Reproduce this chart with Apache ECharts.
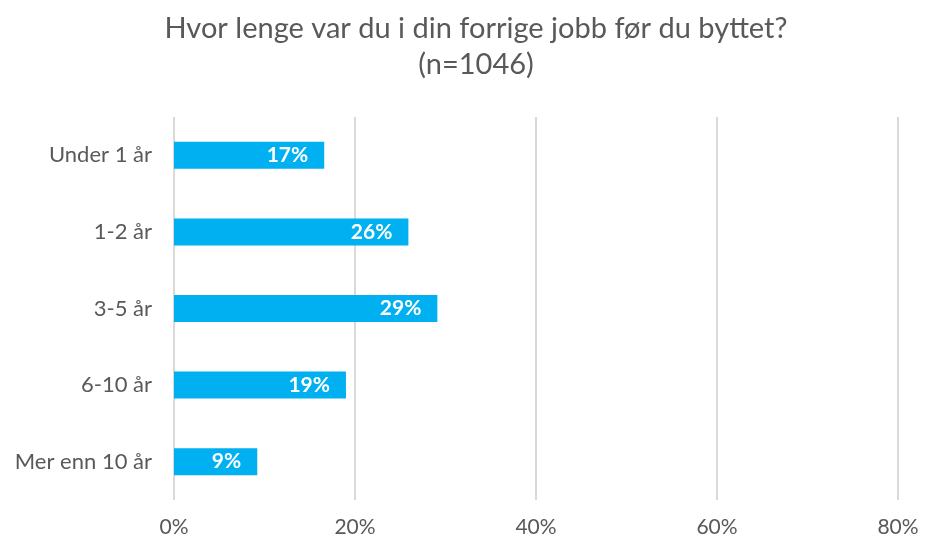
<!DOCTYPE html>
<html>
<head>
<meta charset="utf-8">
<script src="https://cdn.jsdelivr.net/npm/echarts@6/dist/echarts.min.js"></script>
<style>
  html, body { margin: 0; padding: 0; background: #fff; }
  #chart { width: 925px; height: 542px; }
</style>
</head>
<body>
<div id="chart"></div>
<script>
// kategorier og verdier (lest av bildet)
var categories = ['Under 1 år', '1-2 år', '3-5 år', '6-10 år', 'Mer enn 10 år']
var values = [16.6, 25.9, 29.1, 19.0, 9.2]
var tickValues = [0, 20, 40, 60, 80]

var font = 'Lato, "Open Sans", sans-serif'

var option = {
    animation: false,
    title: {
        text: 'Hvor lenge var du i din forrige jobb før du byttet?\n(n=1046)',
        left: 471,
        textAlign: 'center',
        top: 6,
        textStyle: {
            fontFamily: font,
            fontWeight: 'normal',
            fontSize: 29,
            lineHeight: 36,
            color: '#595959'
        }
    },
    grid: {
        left: 174,
        right: 27,
        top: 117,
        bottom: 42
    },
    xAxis: {
        type: 'value',
        min: tickValues[0],
        max: tickValues[tickValues.length - 1],
        interval: 20,
        axisLine: { show: false },
        axisTick: { show: false },
        splitLine: { lineStyle: { color: '#d9d9d9', width: 2 } },
        axisLabel: {
            formatter: '{value}%',
            fontFamily: font,
            fontSize: 21,
            color: '#595959',
            margin: 17
        }
    },
    yAxis: {
        type: 'category',
        data: categories,
        inverse: true,
        axisLine: { show: false },
        axisTick: { show: false },
        axisLabel: {
            fontFamily: font,
            fontSize: 22,
            color: '#595959',
            margin: 22
        }
    },
    series: [
        {
            type: 'bar',
            data: values,
            barWidth: 27,
            itemStyle: { color: '#00B0F0' },
            label: {
                show: true,
                position: 'insideRight',
                distance: 16,
                formatter: function (p) { return Math.round(p.value) + '%' },
                fontFamily: font,
                fontWeight: 'bold',
                fontSize: 21,
                color: '#fff'
            }
        }
    ]
}

var mychart = echarts.init(document.getElementById('chart'))
mychart.setOption(option)
</script>
</body>
</html>
